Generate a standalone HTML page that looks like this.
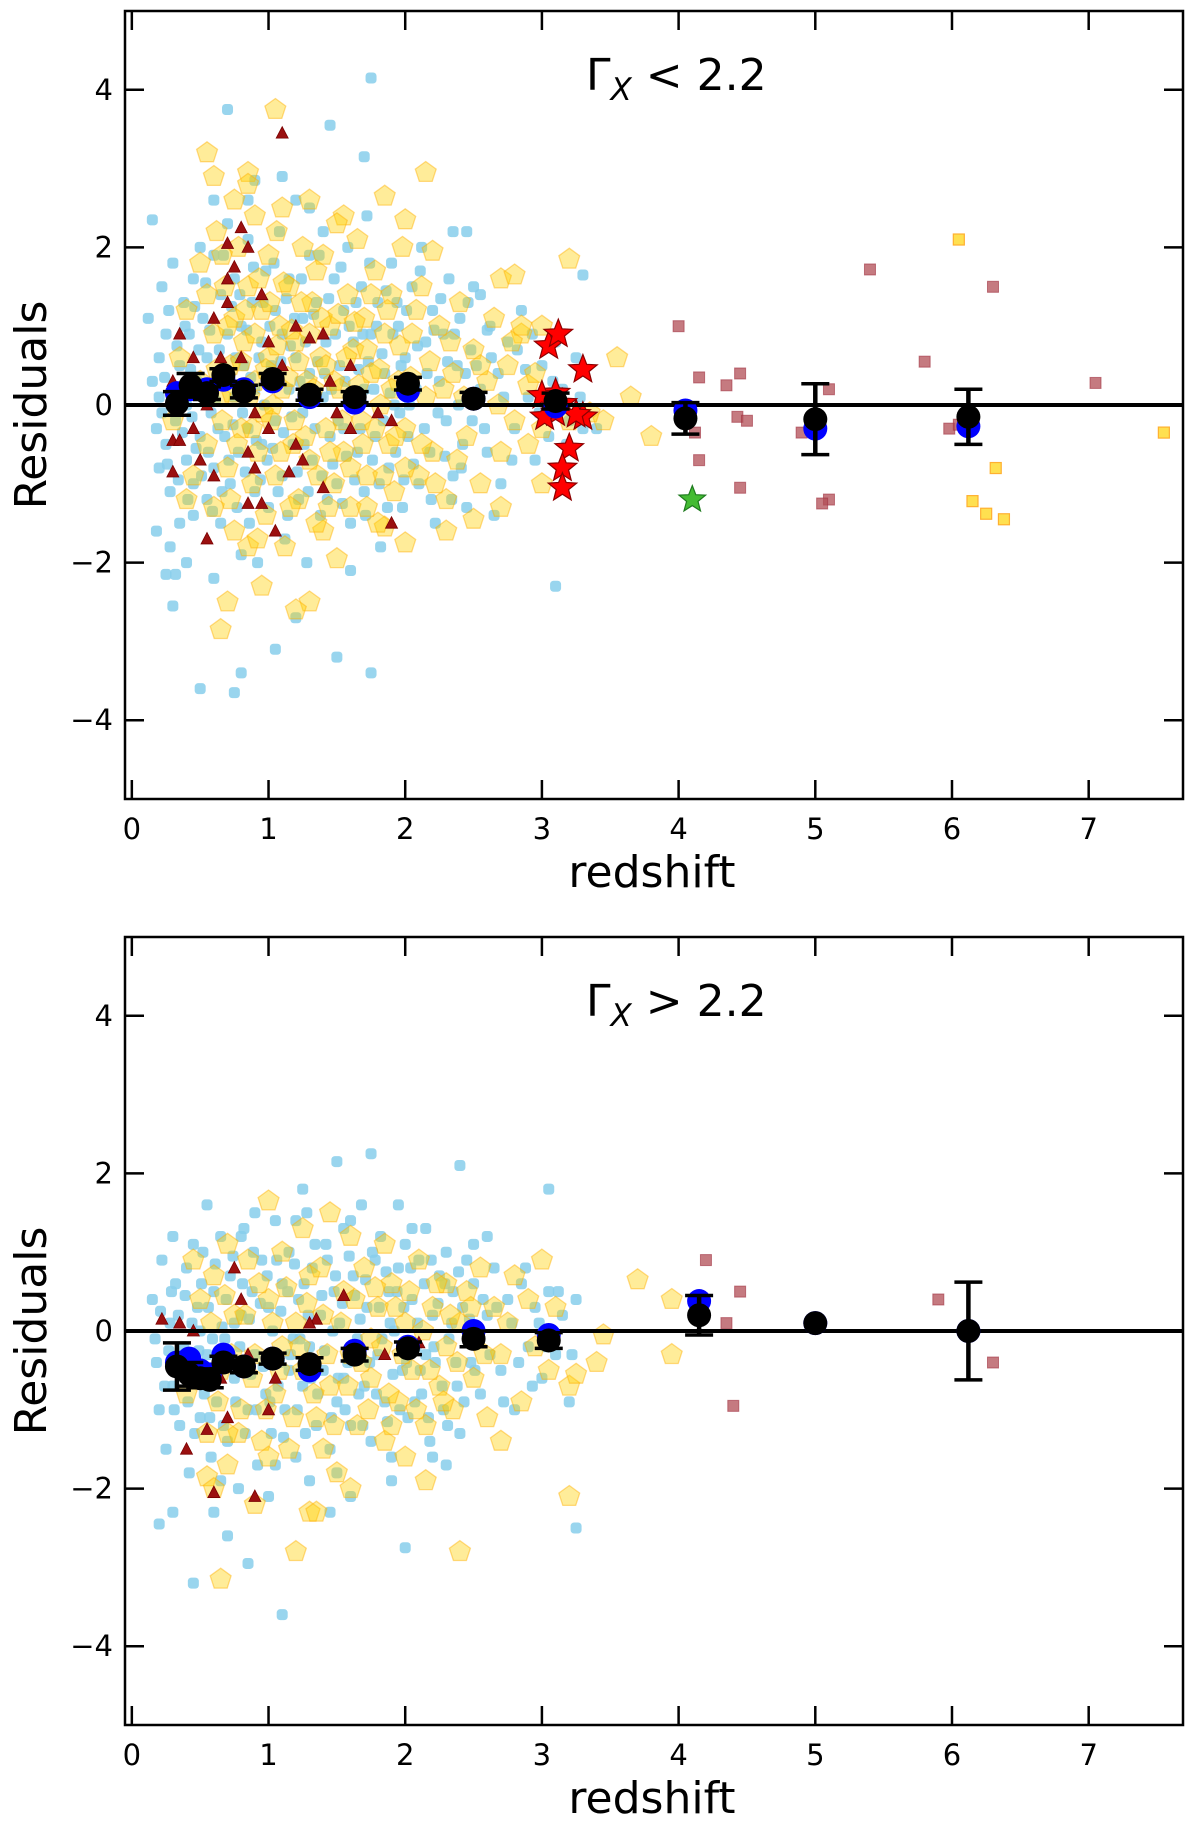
<!DOCTYPE html>
<html><head><meta charset="utf-8"><style>
html,body{margin:0;padding:0;background:#fff;}
svg{display:block;font-family:"DejaVu Sans","Liberation Sans",sans-serif;}
</style></head><body>
<svg id="fig" width="1200" height="1823" viewBox="0 0 1200 1823" xmlns="http://www.w3.org/2000/svg"></svg>
<script>
// ---------- DATA ----------
const xTicks = [0,1,2,3,4,5,6,7];
const yTicks = [-4,-2,0,2,4];
const panelTitles = ["<", ">"];

const cyanTop = [[0.15,2.35],[0.25,-2.15],[0.3,-2.55],[0.32,-2.15],[0.5,-3.6],[0.7,3.75],[0.75,-3.65],[0.8,-3.4],[1.05,-3.1],[1.5,-3.2],[1.75,-3.4],[1.75,4.15],[1.45,3.55],[1.7,3.15],[2.45,2.2],[2.35,2.2],[3.1,-2.3],[3.3,1.65],[1.1,2.9],[0.9,2.85],[1.2,-2.7],[0.6,-2.2],[1.6,-2.1],[1.3,2.5],
[0.12,1.1],[0.15,0.3],[0.18,-0.3],[0.2,0.6],[0.2,-0.8],[0.22,1.5],[0.25,-0.5],[0.25,0.9],[0.28,-1.1],[0.3,0.2],[0.3,1.8],[0.32,-0.2],[0.35,-1.5],[0.35,0.5],[0.38,1.3],[0.4,-0.7],[0.4,0.0],[0.42,0.9],[0.45,-1.0],[0.45,1.6],[0.48,0.3],[0.5,-0.4],[0.5,2.0],[0.18,-1.6],[0.28,-1.8],[0.4,-2.0],[0.45,-1.4],
[0.52,1.1],[0.55,-1.2],[0.55,0.6],[0.58,-0.1],[0.6,1.9],[0.6,-0.8],[0.62,0.3],[0.65,1.4],[0.65,-1.5],[0.68,-0.4],[0.7,0.9],[0.7,2.3],[0.72,-1.0],[0.75,0.1],[0.75,1.6],[0.78,-0.6],[0.8,1.0],[0.8,-1.9],[0.82,0.5],[0.85,-0.3],[0.85,2.1],[0.88,1.3],[0.9,-1.1],[0.9,0.2],[0.92,-2.0],[0.95,0.8],[0.95,-0.5],[0.98,1.7],[0.6,2.6],[0.85,2.6],
[1.0,-1.3],[1.02,0.5],[1.05,1.2],[1.05,-0.2],[1.08,2.2],[1.1,-0.9],[1.1,0.9],[1.12,-1.7],[1.15,0.2],[1.15,1.6],[1.18,-0.5],[1.2,2.6],[1.2,0.6],[1.22,-1.2],[1.25,1.1],[1.25,-0.1],[1.28,-2.0],[1.3,0.4],[1.3,1.9],[1.32,-0.7],[1.35,1.3],[1.38,-1.4],[1.4,0.1],[1.4,2.2],[1.42,0.8],[1.45,-0.4],[1.48,1.6],[1.5,-1.0],
[1.52,0.5],[1.55,-0.3],[1.55,1.2],[1.58,2.0],[1.6,-1.5],[1.62,0.8],[1.65,-0.6],[1.68,1.5],[1.7,0.2],[1.7,-1.1],[1.72,2.4],[1.75,0.9],[1.78,-0.4],[1.8,1.3],[1.82,-1.8],[1.85,0.4],[1.88,-0.8],[1.9,1.8],[1.92,0.0],[1.95,1.0],[1.98,-1.3],[2.0,0.6],
[2.02,-0.4],[2.05,1.5],[2.08,0.2],[2.1,-1.0],[2.12,2.0],[2.15,0.8],[2.18,-0.6],[2.2,1.2],[2.22,-1.5],[2.25,0.3],[2.28,0.9],[2.3,-0.2],[2.32,1.6],[2.35,-0.9],[2.38,0.5],[2.4,1.1],[2.42,-0.5],[2.45,-1.3],[2.48,0.7],[2.5,1.5],
[2.55,0.2],[2.6,-0.6],[2.62,1.0],[2.68,0.4],[2.7,-1.0],[2.75,0.8],[2.8,-0.3],[2.85,1.2],[2.9,0.1],[2.95,-0.7],[3.0,0.5],[3.05,-0.4],[3.1,0.8],[3.15,0.2],[3.2,-0.2],[3.25,0.6],[3.3,-0.3],[3.4,-0.3],[2.65,-1.4],[2.55,1.4]];

const cyanTopDense = [[0.2,0.1],[0.22,-0.1],[0.24,0.35],[0.26,-0.75],[0.27,1.2],[0.33,0.75],[0.34,-0.95],[0.36,0.15],[0.37,-0.35],[0.39,1.0],[0.41,-1.2],[0.43,0.45],[0.44,-0.15],[0.46,1.25],[0.47,-0.55],[0.49,0.7],[0.51,-0.9],[0.53,0.2],[0.54,1.55],[0.56,-0.6],[0.57,0.95],[0.59,-1.35],[0.61,0.05],[0.63,-0.3],[0.64,0.7],[0.66,-1.1],[0.67,1.9],[0.69,0.25],[0.71,-0.7],[0.73,1.25],[0.74,-0.25],[0.76,0.6],[0.77,-1.3],[0.79,1.4],[0.81,-0.1],[0.83,-0.85],[0.84,0.95],[0.86,-1.5],[0.87,0.35],[0.89,1.75],[0.91,-0.45],[0.93,0.6],[0.94,-0.95],[0.96,1.3],[0.97,0.0],[0.99,-0.7],[1.01,1.0],[1.03,-0.55],[1.04,1.8],[1.06,0.25],[1.07,-1.1],[1.09,0.55],[1.11,-0.35],[1.13,1.35],[1.14,-1.4],[1.16,0.75],[1.17,-0.15],[1.19,1.1],[1.21,-0.85],[1.23,0.3],[1.24,1.6],[1.26,-0.5],[1.27,0.8],[1.29,-1.1],[1.31,0.05],[1.33,1.15],[1.34,-0.3],[1.36,0.55],[1.37,1.9],[1.39,-0.9],[1.41,0.4],[1.43,-1.2],[1.44,1.35],[1.46,0.2],[1.47,-0.75],[1.49,0.9],[1.51,-0.2],[1.53,1.75],[1.54,-1.25],[1.56,0.3],[1.57,-0.65],[1.59,1.0],[1.61,0.1],[1.63,-0.95],[1.64,1.3],[1.66,0.45],[1.67,-0.3],[1.69,0.9],[1.71,-1.4],[1.73,0.55],[1.74,1.8],[1.76,-0.7],[1.77,0.2],[1.79,1.0],[1.81,-1.0],[1.83,0.65],[1.84,-0.2],[1.86,1.45],[1.87,-1.3],[1.89,0.15],[1.91,0.9],[1.93,-0.6],[1.94,1.3],[1.96,-0.1],[1.97,0.5],[1.99,-0.95],[2.01,1.2],[2.03,0.0],[2.06,-0.75],[2.09,0.75],[2.11,1.7],[2.14,-0.3],[2.16,0.4],[2.19,-1.2],[2.21,0.95],[2.24,-0.1],[2.26,1.35],[2.29,-0.65],[2.31,0.55],[2.34,-1.2],[2.36,0.9],[2.39,0.0],[2.41,-0.8],[2.44,0.4],[2.46,1.3],[2.49,-0.2],[2.52,0.5],[2.58,-0.3],[2.63,0.6],[2.72,0.1],[2.78,-0.7],[2.88,0.45],[2.98,-0.1],[3.08,0.3],[3.18,-0.5],[3.28,0.1],[2.6,0.95],[2.82,0.7],[2.93,0.9]];

const yellowTop = [[0.55,3.2],[0.6,2.9],[0.85,2.95],[1.05,3.75],[0.75,2.6],[0.65,-2.85],[0.7,-2.5],[0.95,-2.3],[1.3,-2.5],[1.2,-2.6],[2.15,2.95],[1.55,2.4],[1.85,2.65],[2.0,2.35],[2.2,1.95],[2.7,1.6],[3.2,1.85],[2.8,1.65],[3.55,0.6],[3.65,0.1],[3.8,-0.4],[3.45,-0.2],[2.0,-1.75],[1.85,-1.55],[2.5,-1.45],[2.3,-1.6],[2.7,-1.3],[3.0,-1.0],[2.9,0.25],[1.5,-1.95],[0.85,-1.8],[1.4,-1.6],[3.0,1.0],[2.85,0.9],
[0.3,-0.2],[0.35,0.6],[0.4,1.2],[0.45,-0.9],[0.5,0.3],[0.5,1.8],[0.55,-0.5],[0.6,0.9],[0.6,-1.3],[0.62,2.2],[0.65,0.1],[0.68,1.5],[0.7,-0.8],[0.72,0.5],[0.75,1.1],[0.75,-1.6],[0.78,2.0],[0.8,-0.3],[0.82,0.8],[0.85,1.5],[0.88,-1.0],[0.9,0.3],[0.9,2.4],[0.92,-0.6],[0.95,1.2],[0.98,-1.4],[1.0,0.6],[1.0,1.9],[1.02,-0.2],[1.05,-0.9],[1.08,1.0],[1.1,2.5],[1.1,0.2],[1.12,-1.8],[1.15,1.5],[1.18,-0.5],[1.2,0.8],[1.22,-1.2],[1.25,2.0],[1.28,0.3],[1.3,-0.7],[1.32,1.3],[1.35,-1.5],[1.38,0.6],[1.4,1.9],[1.42,-0.3],[1.45,1.0],[1.48,-1.0],[1.5,2.3],[1.52,0.2],[1.55,-0.6],[1.58,1.4],[1.6,-1.3],[1.62,0.7],[1.65,2.1],[1.68,-0.2],[1.7,1.1],[1.72,-0.9],[1.75,0.4],[1.78,1.7],[1.8,-1.5],[1.82,0.0],[1.85,0.9],[1.88,-0.5],[1.9,1.4],[1.92,-1.1],[1.95,0.3],[1.98,2.0],[2.0,-0.3],[2.05,0.9],[2.1,-0.9],[2.12,1.5],[2.15,0.1],[2.2,-0.6],[2.25,1.0],[2.3,-1.2],[2.35,0.4],[2.4,1.3],[2.45,-0.4],[2.5,0.7],[2.55,-1.0],[2.6,0.3],[2.65,1.1],[2.7,-0.6],[2.75,0.5],[2.8,-0.2],[2.85,1.0],[2.9,-0.5],[2.95,0.4],[3.0,-0.3],[3.2,-0.2],[3.35,-0.1],[0.85,2.8],[1.3,2.6],[0.4,-1.2],[0.55,1.4]];

const yellowTopDense = [[0.62,0.45],[0.66,-0.2],[0.7,1.0],[0.73,0.15],[0.77,-0.5],[0.8,0.55],[0.83,1.2],[0.86,0.1],[0.88,-0.3],[0.9,0.9],[0.93,1.6],[0.96,-0.1],[0.98,0.45],[1.01,1.3],[1.03,0.0],[1.06,0.75],[1.09,-0.6],[1.11,1.55],[1.14,0.35],[1.17,0.95],[1.19,-0.2],[1.22,0.55],[1.24,1.3],[1.27,-0.4],[1.3,0.9],[1.33,0.2],[1.36,-0.9],[1.39,1.1],[1.42,0.5],[1.45,-0.6],[1.48,0.3],[1.51,1.15],[1.54,-0.2],[1.57,0.6],[1.6,-0.8],[1.63,1.05],[1.66,0.25],[1.69,-0.5],[1.72,0.7],[1.75,1.4],[1.78,-0.3],[1.81,0.45],[1.84,-0.9],[1.87,1.2],[1.9,0.2],[1.93,-0.4],[1.96,0.75],[2.0,-0.8],[2.04,0.35],[2.08,1.2],[2.12,-0.5],[2.18,0.55],[2.22,-1.0],[2.28,0.2],[2.33,0.8],[2.38,-0.7],[2.43,0.1],[2.55,0.5],[2.68,0.0],[2.78,0.8],[0.72,-1.2],[0.92,-1.7],[1.16,-1.3],[1.44,-1.3],[1.72,-1.3],[0.66,1.9],[1.06,2.2],[1.35,1.7]];

const triTop = [[1.1,3.45],[0.8,2.25],[0.7,2.05],[0.85,2.0],[0.75,1.75],[0.3,0.3],[0.3,-0.45],[0.3,-0.85],[0.35,0.9],[0.35,-0.45],[0.45,0.6],[0.5,-0.7],[0.55,-1.7],[0.6,1.1],[0.6,-0.9],[0.7,1.6],[0.7,1.3],[0.8,0.6],[0.85,-0.6],[0.9,-0.8],[0.85,-1.25],[0.95,-1.25],[0.95,1.4],[1.0,-0.3],[1.0,0.8],[1.05,-1.6],[1.1,0.5],[1.2,-0.5],[1.2,1.0],[1.25,-0.7],[1.3,0.85],[1.4,-1.05],[1.45,0.3],[1.5,-0.1],[1.6,-0.3],[1.6,0.5],[1.8,-0.1],[1.9,-0.2],[1.9,-1.5],[1.4,0.9],[0.65,0.6],[0.55,0.0],[0.45,-0.3],[0.9,-0.1],[1.15,-0.85]];

const brownTop = [[4.0,1.0],[4.15,0.35],[4.12,-0.35],[4.35,0.25],[4.45,0.4],[4.43,-0.15],[4.5,-0.2],[4.15,-0.7],[4.45,-1.05],[5.1,0.2],[5.4,1.72],[5.1,-1.2],[5.05,-1.25],[4.9,-0.35],[5.8,0.55],[6.3,1.5],[5.98,-0.3],[6.05,-0.25],[7.05,0.28]];
const goldSqTop = [[6.05,2.1],[7.55,-0.35],[6.15,-1.22],[6.25,-1.38],[6.38,-1.45],[6.32,-0.8]];
const starsTop = [[3.05,0.75],[3.12,0.9],[3.3,0.45],[3.1,-0.1],[3.3,-0.15],[3.2,-0.55],[3.15,-0.8],[3.15,-1.05],[3.02,-0.15],[3.15,0.02],[3.25,-0.12],[3.1,0.15],[3.0,0.12]];
const greenStarTop = [[4.1,-1.2]];

const binZTop = [0.33,0.43,0.55,0.67,0.82,1.03,1.3,1.63,2.02,2.5,3.1,4.05,5.0,6.12];
const binBlackTop = [0.02,0.25,0.15,0.38,0.17,0.33,0.13,0.1,0.27,0.08,0.05,-0.17,-0.18,-0.15];
const binErrTop = [0.15,0.15,0.08,0.08,0.08,0.07,0.07,0.07,0.08,0.08,0.1,0.2,0.45,0.35];
const binBlueTop = [0.15,0.2,0.2,0.32,0.2,0.3,0.1,0.03,0.18,0.08,-0.02,-0.07,-0.3,-0.27];

const cyanBot = [[1.1,-3.6],[0.45,-3.2],[0.85,-2.95],[2.0,-2.75],[3.25,-2.5],[1.5,2.15],[1.75,2.25],[2.4,2.1],[3.05,1.8],[0.2,-2.45],[0.3,-2.3],[1.3,-1.9],[1.6,-2.1],[0.7,-2.6],
[0.15,0.4],[0.18,-0.4],[0.2,-1.0],[0.22,0.9],[0.25,-1.5],[0.28,0.1],[0.3,-0.7],[0.32,0.6],[0.35,-1.2],[0.38,-0.2],[0.4,0.8],[0.42,-1.8],[0.45,-0.6],[0.48,0.3],[0.5,-1.1],[0.52,1.0],[0.55,-0.3],[0.58,-1.6],[0.6,0.5],[0.62,-0.9],[0.65,1.2],[0.68,-0.1],[0.7,-1.4],[0.72,0.7],[0.75,-0.6],[0.78,-2.0],[0.8,0.2],[0.82,1.3],[0.85,-1.0],[0.88,0.5],[0.9,-0.3],[0.92,-1.7],[0.95,0.9],[0.98,-0.8],[1.0,0.3],[1.02,-1.3],[1.05,1.4],[1.08,-0.4],[1.1,0.6],[1.12,-1.0],[1.15,1.0],[1.18,-0.1],[1.2,-1.6],[1.22,0.4],[1.25,-0.7],[1.28,1.5],[1.3,-0.2],[1.32,0.8],[1.35,-1.2],[1.38,0.2],[1.4,-0.5],[1.42,1.1],[1.45,-1.5],[1.48,0.5],[1.5,-0.9],[1.52,0.1],[1.55,1.3],[1.58,-0.4],[1.6,-1.2],[1.62,0.7],[1.65,-0.1],[1.68,1.6],[1.7,-0.7],[1.72,0.3],[1.75,-1.4],[1.78,0.9],[1.8,-0.3],[1.82,1.2],[1.85,-0.9],[1.88,0.5],[1.9,-1.6],[1.92,0.0],[1.95,0.8],[1.98,-0.5],[2.0,1.1],[2.02,-1.1],[2.05,0.4],[2.08,-0.2],[2.1,0.9],[2.12,-0.8],[2.15,1.3],[2.18,-1.4],[2.2,0.2],[2.22,-0.4],[2.25,0.7],[2.28,-1.0],[2.3,1.0],[2.32,-0.1],[2.35,0.5],[2.38,-0.7],[2.4,-1.3],[2.42,0.3],[2.45,0.9],[2.48,-0.4],[2.5,0.6],[2.55,-0.8],[2.6,0.2],[2.65,0.8],[2.7,-0.5],[2.75,0.4],[2.8,-1.0],[2.85,0.6],[2.9,-0.2],[2.95,0.3],[3.0,-0.6],[3.05,0.5],[3.1,-0.3],[3.15,0.2],[3.2,-0.9],[3.25,0.4],[0.3,1.2],[0.55,1.6],[0.9,1.5],[1.25,1.8],[1.95,1.6],[2.6,1.2],[0.6,-2.3],[1.0,-2.1],[1.45,-2.3],[1.9,-1.9],[2.3,-1.7],[0.5,0.0],[0.75,0.1],[1.15,-0.5],[1.55,-0.6],[2.15,-0.3]];

const cyanBotDense = [[0.17,-0.1],[0.21,0.25],[0.24,-0.7],[0.27,-0.25],[0.29,0.5],[0.31,-1.0],[0.34,0.2],[0.36,-0.5],[0.39,0.45],[0.41,-0.9],[0.44,0.1],[0.46,-1.3],[0.49,-0.25],[0.51,0.6],[0.53,-0.8],[0.56,0.3],[0.57,-1.1],[0.59,-0.1],[0.61,0.85],[0.63,-0.6],[0.66,0.05],[0.67,-1.2],[0.69,0.4],[0.71,-0.35],[0.74,0.95],[0.76,-0.9],[0.79,-0.2],[0.81,0.6],[0.83,-1.3],[0.86,0.15],[0.87,-0.55],[0.89,1.0],[0.91,-1.0],[0.94,0.35],[0.96,-0.45],[0.99,0.7],[1.01,-0.9],[1.03,0.0],[1.06,0.9],[1.07,-0.7],[1.09,0.25],[1.11,-1.35],[1.14,0.5],[1.16,-0.3],[1.19,0.85],[1.21,-1.0],[1.23,-0.1],[1.26,0.6],[1.27,-1.3],[1.29,0.2],[1.31,-0.6],[1.34,1.1],[1.36,-0.8],[1.39,0.45],[1.41,-0.25],[1.43,0.9],[1.46,-1.1],[1.47,0.0],[1.49,0.7],[1.51,-0.6],[1.54,0.35],[1.56,-1.0],[1.59,0.95],[1.61,-0.2],[1.63,0.45],[1.66,-0.8],[1.67,0.15],[1.69,-1.2],[1.71,0.65],[1.74,-0.4],[1.76,1.0],[1.79,-0.8],[1.81,0.3],[1.83,-0.1],[1.86,0.75],[1.87,-1.15],[1.89,0.1],[1.91,-0.55],[1.94,0.5],[1.96,-1.0],[1.99,0.3],[2.01,-0.4],[2.04,0.8],[2.07,-0.9],[2.09,0.1],[2.11,-0.5],[2.14,0.6],[2.17,-1.1],[2.19,0.9],[2.21,-0.2],[2.24,0.35],[2.27,-0.7],[2.29,0.6],[2.31,-1.2],[2.34,0.1],[2.37,-0.4],[2.39,0.75],[2.43,-0.9],[2.47,0.15],[2.51,-0.5],[2.57,0.4],[2.62,-0.3],[2.67,0.3],[2.72,-0.9],[2.78,0.1],[2.83,-0.4],[2.88,0.8],[2.93,-0.7],[2.98,0.1],[3.03,-0.2],[3.12,0.5],[3.22,-0.3],[0.45,1.1],[0.8,1.2],[1.2,1.4],[1.6,1.4],[2.05,1.3],[2.5,1.1],[0.65,-1.9],[1.05,-1.7],[1.5,-1.8],[2.2,-1.6]];

const yellowBot = [[3.7,0.65],[3.95,0.4],[3.95,-0.3],[3.4,-0.4],[3.45,-0.05],[3.2,-0.7],[3.25,-0.55],[3.2,-2.1],[2.4,-2.8],[2.15,-1.9],[1.3,-2.3],[1.2,-2.8],[0.65,-3.15],[0.55,-1.85],[0.6,-2.0],[1.0,1.65],[1.45,1.5],[1.6,1.2],[1.35,-2.3],
[0.4,-0.8],[0.5,0.4],[0.55,-1.3],[0.6,0.7],[0.65,-0.5],[0.7,-1.7],[0.75,0.2],[0.8,-1.0],[0.85,0.9],[0.9,-0.3],[0.95,-1.4],[1.0,0.4],[1.05,-0.8],[1.1,1.0],[1.15,-1.5],[1.2,0.1],[1.25,-0.5],[1.3,0.7],[1.35,-1.1],[1.4,0.2],[1.45,-0.7],[1.5,-1.8],[1.55,0.5],[1.6,-0.3],[1.65,-1.2],[1.7,0.8],[1.75,-0.6],[1.8,0.3],[1.85,-1.4],[1.9,0.6],[1.95,-0.9],[2.0,0.1],[2.05,-0.5],[2.1,0.9],[2.15,-1.2],[2.2,0.3],[2.25,-0.7],[2.3,0.6],[2.35,-1.0],[2.4,0.1],[2.45,0.5],[2.5,-0.6],[2.55,0.8],[2.6,-1.1],[2.65,0.3],[2.7,-0.3],[2.8,0.7],[2.85,-0.9],[2.9,0.4],[2.95,-0.2],[3.0,0.9],[3.05,-0.5],[3.1,0.3],[0.45,0.9],[0.7,1.1],[1.25,1.3],[1.85,1.1],[2.7,-1.4],[0.9,-2.2],[1.6,-2.0],[2.0,-1.6],[1.1,-0.2],[1.75,-0.1],[2.3,-0.2]];

const yellowBotDense = [[0.5,-0.6],[0.58,0.1],[0.63,-0.9],[0.68,0.45],[0.73,-0.3],[0.78,-1.3],[0.83,0.2],[0.88,-0.6],[0.93,0.6],[0.98,-1.0],[1.03,0.1],[1.08,-0.5],[1.13,0.55],[1.18,-1.1],[1.23,-0.2],[1.28,0.35],[1.33,-0.8],[1.38,0.8],[1.43,-0.3],[1.48,-1.2],[1.53,0.1],[1.58,-0.7],[1.63,0.4],[1.68,-0.4],[1.73,-1.0],[1.78,0.55],[1.83,-0.2],[1.88,-0.8],[1.93,0.3],[1.98,-0.3],[2.03,0.5],[2.08,-1.0],[2.13,0.0],[2.18,-0.5],[2.23,0.6],[2.28,-0.9],[2.33,0.2],[2.38,-0.4],[2.48,0.3],[2.58,-0.3],[2.75,0.1],[0.7,-1.3],[1.0,-1.6],[1.4,-1.5],[1.9,-1.2]];

const triBot = [[0.22,0.15],[0.35,0.1],[0.4,-1.5],[0.55,-1.25],[0.6,-2.05],[0.7,-1.1],[0.85,-0.3],[1.05,-0.6],[0.75,0.8],[0.9,-2.1],[1.35,0.15],[1.55,0.45],[1.85,-0.3],[0.45,0.0],[0.8,0.4],[1.3,0.1],[2.1,-0.15],[0.65,-0.6],[1.0,-1.0]];
const brownBot = [[4.15,0.3],[4.2,0.9],[4.45,0.5],[4.35,0.1],[4.4,-0.95],[5.9,0.4],[6.3,-0.4]];

const binZBot = [0.33,0.42,0.5,0.57,0.67,0.82,1.03,1.3,1.63,2.02,2.5,3.05,4.15,5.0,6.12];
const binBlackBot = [-0.45,-0.55,-0.6,-0.62,-0.4,-0.45,-0.35,-0.42,-0.3,-0.22,-0.1,-0.12,0.2,0.1,0.0];
const binErrBot = [0.3,0.15,0.12,0.1,0.08,0.08,0.07,0.08,0.08,0.08,0.1,0.1,0.25,0.0,0.62];
const binBlueBot = [-0.4,-0.35,-0.5,-0.55,-0.3,-0.45,-0.35,-0.5,-0.25,-0.2,0.0,-0.05,0.38,0.1,0.0];

// ---------- DRAW ----------
const NS = "http://www.w3.org/2000/svg";
const svg = document.getElementById('fig');
function el(tag, attrs, parent){const e=document.createElementNS(NS,tag);for(const k in attrs)e.setAttribute(k,attrs[k]);(parent||svg).appendChild(e);return e;}

const panels = [
 {top:11,bottom:799,cyan:cyanTop.concat(cyanTopDense),yellow:yellowTop.concat(yellowTopDense),tri:triTop,brown:brownTop,gold:goldSqTop,stars:starsTop,green:greenStarTop,bz:binZTop,bb:binBlackTop,be:binErrTop,bl:binBlueTop,title:0},
 {top:937,bottom:1725,cyan:cyanBot.concat(cyanBotDense),yellow:yellowBot.concat(yellowBotDense),tri:triBot,brown:brownBot,gold:[],stars:[],green:[],bz:binZBot,bb:binBlackBot,be:binErrBot,bl:binBlueBot,title:1}
];
const L=125,R=1183,XMIN=-0.05,XMAX=7.69;
function sx(z){return L+(z-XMIN)/(XMAX-XMIN)*(R-L);}

function pentagon(cx,cy,r){let p=[];for(let i=0;i<5;i++){const a=-Math.PI/2+i*2*Math.PI/5;p.push((cx+r*Math.cos(a)).toFixed(1)+","+(cy+r*Math.sin(a)).toFixed(1));}return p.join(" ");}
function star(cx,cy,ro,ri){let p=[];for(let i=0;i<10;i++){const a=-Math.PI/2+i*Math.PI/5;const r=i%2?ri:ro;p.push((cx+r*Math.cos(a)).toFixed(1)+","+(cy+r*Math.sin(a)).toFixed(1));}return p.join(" ");}

panels.forEach((P,pi)=>{
  const sy=r=>P.top+(5-r)/10*(P.bottom-P.top);
  const g=el('g',{});
  
  
  const clipId='clip'+pi;
  const cp=el('clipPath',{id:clipId},g);el('rect',{x:L,y:P.top,width:R-L,height:P.bottom-P.top},cp);
  const pg=el('g',{'clip-path':'url(#'+clipId+')'},g);

  P.cyan.forEach(d=>{const e=el('rect',{x:sx(d[0])-5.5,y:sy(d[1])-5.5,width:11,height:11,rx:3.5,fill:'#87CEEB','fill-opacity':0.85},pg);
    
    });
  P.yellow.forEach(d=>{const e=el('polygon',{points:pentagon(sx(d[0]),sy(d[1]),11),fill:'#FFD000','fill-opacity':0.4,stroke:'#FFB000','stroke-opacity':0.45,'stroke-width':1.3},pg);
    
    });
  P.tri.forEach(d=>{const x=sx(d[0]),y=sy(d[1]);const e=el('polygon',{points:`${x},${y-6.5} ${x-6},${y+5} ${x+6},${y+5}`,fill:'#9B1010',stroke:'#7a0000','stroke-width':0.8},pg);
    
    });
  P.brown.forEach(d=>{const e=el('rect',{x:sx(d[0])-5.5,y:sy(d[1])-5.5,width:11,height:11,fill:'#B24E56','fill-opacity':0.75,stroke:'#a03040','stroke-opacity':0.6},pg);
    
    });
  P.gold.forEach(d=>{const e=el('rect',{x:sx(d[0])-5.5,y:sy(d[1])-5.5,width:11,height:11,fill:'#FFE050',stroke:'#FFB030','stroke-width':1.2},pg);
    
    });
  P.stars.forEach(d=>{const e=el('polygon',{points:star(sx(d[0]),sy(d[1]),15,6.5),fill:'#FF0000',stroke:'#8B0000','stroke-width':1.2},pg);
    
    });
  P.green.forEach(d=>{const e=el('polygon',{points:star(sx(d[0]),sy(d[1]),14,6),fill:'#44BB33',stroke:'#1E7A1E','stroke-width':1.2},pg);
    
    });

  const zl=el('line',{x1:L,x2:R,y1:sy(0),y2:sy(0),stroke:'#000','stroke-width':4},pg);
  
  

  P.bz.forEach((z,i)=>{const e=el('circle',{cx:sx(z),cy:sy(P.bl[i]),r:12,fill:'#0000FF'},pg);
    
    });
  P.bz.forEach((z,i)=>{
    const x=sx(z),y=sy(P.bb[i]),e1=sy(P.bb[i]+P.be[i]),e2=sy(P.bb[i]-P.be[i]);
    if(P.be[i]>0){
      el('line',{x1:x,x2:x,y1:e1,y2:e2,stroke:'#000','stroke-width':4.5},pg);
      el('line',{x1:x-14,x2:x+14,y1:e1,y2:e1,stroke:'#000','stroke-width':3.5},pg);
      el('line',{x1:x-14,x2:x+14,y1:e2,y2:e2,stroke:'#000','stroke-width':3.5},pg);
    }
    const c=el('circle',{cx:x,cy:y,r:12,fill:'#000'},pg);
    
    
  });

  const fr=el('rect',{x:L,y:P.top,width:R-L,height:P.bottom-P.top,fill:'none',stroke:'#000','stroke-width':2.5},g);
  
  
  xTicks.forEach(t=>{const x=sx(t);
    el('line',{x1:x,x2:x,y1:P.bottom,y2:P.bottom-19,stroke:'#000','stroke-width':2.5},g);
    el('line',{x1:x,x2:x,y1:P.top,y2:P.top+19,stroke:'#000','stroke-width':2.5},g);
    const tx=el('text',{x:x,y:P.bottom+40,'font-size':29,'text-anchor':'middle',fill:'#000'},g);tx.textContent=t;
    
    
  });
  yTicks.forEach(t=>{const y=sy(t);
    el('line',{x1:L,x2:L+19,y1:y,y2:y,stroke:'#000','stroke-width':2.5},g);
    el('line',{x1:R,x2:R-19,y1:y,y2:y,stroke:'#000','stroke-width':2.5},g);
    const tx=el('text',{x:L-12,y:y+10,'font-size':29,'text-anchor':'end',fill:'#000'},g);tx.textContent=(t<0?'\u2212'+(-t):t);
    
    
  });
  const xl=el('text',{x:(L+R)/2-2,y:P.bottom+88,'font-size':44,'text-anchor':'middle',fill:'#000'},g);xl.textContent='redshift';
  
  
  const yc=(P.top+P.bottom)/2;
  const yl=el('text',{x:0,y:0,'font-size':44,'text-anchor':'middle',fill:'#000',transform:`translate(46,${yc}) rotate(-90)`},g);yl.textContent='Residuals';
  
  
  const tt=el('text',{x:586,y:P.top+79,'font-size':44,fill:'#000'},g);
  
  
  const s1=el('tspan',{},tt);s1.textContent='\u0393';
  const s2=el('tspan',{'font-size':31,'font-style':'italic',dy:10},tt);s2.textContent='X';
  const s3=el('tspan',{dy:-10},tt);s3.textContent=' '+panelTitles[P.title]+' 2.2';
});
</script>
</body></html>
